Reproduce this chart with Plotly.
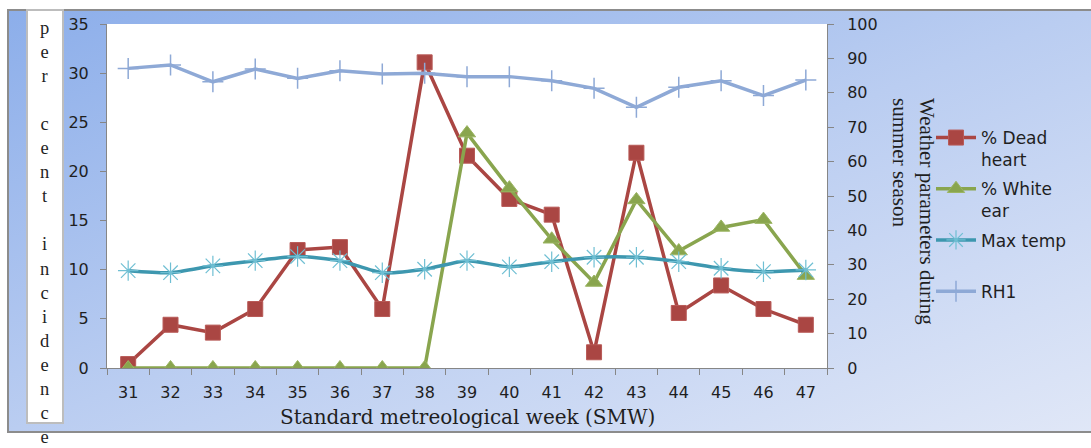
import base64
import plotly.graph_objects as go

weeks = ["31", "32", "33", "34", "35", "36", "37", "38", "39", "40", "41", "42", "43", "44", "45", "46", "47"]
dead_heart = [0.4, 4.4, 3.6, 6.0, 12.0, 12.3, 6.0, 31.1, 21.6, 17.2, 15.6, 1.6, 21.9, 5.6, 8.4, 6.0, 4.4]
white_ear = [0, 0, 0, 0, 0, 0, 0, 0, 23.9, 18.3, 13.1, 8.7, 17.1, 11.9, 14.3, 15.1, 9.4]
max_temp = [28.3, 27.7, 29.7, 31.2, 32.4, 31.2, 27.7, 28.7, 31.2, 29.4, 30.9, 32.2, 32.2, 30.9, 29.0, 28.0, 28.5]
rh1 = [87.1, 88.1, 83.2, 86.9, 84.2, 86.4, 85.5, 85.7, 84.7, 84.7, 83.5, 81.3, 75.8, 81.6, 83.5, 79.2, 83.7]

left_ticks = [0, 5, 10, 15, 20, 25, 30, 35]
right_ticks = [0, 10, 20, 30, 40, 50, 60, 70, 80, 90, 100]

W, H = 1091, 448
L, R, T, B = 107, 827, 24, 368
pw, ph = R - L, B - T


def px(x):
    return (x - L) / pw


def py(y):
    return (B - y) / ph


SANS = "DejaVu Sans"
SERIF = "Liberation Serif"
TXT = "#1f1f1f"
AXC = "#868686"

fig = go.Figure()
fig.add_trace(go.Scatter(
    x=weeks, y=dead_heart, name="% Dead<br>heart", legendgroup="a",
    mode="lines+markers", line=dict(color="#AA4643", width=3.5),
    marker=dict(symbol="square", size=15, color="#AA4643", line=dict(color="#B85A57", width=1)),
))
fig.add_trace(go.Scatter(
    x=weeks, y=white_ear, name="% White<br>ear", legendgroup="b",
    mode="lines+markers", line=dict(color="#89A54E", width=3.5),
    marker=dict(symbol="triangle-up", size=15, color="#89A54E", line=dict(color="#9BB562", width=1)),
))
fig.add_trace(go.Scatter(
    x=weeks, y=max_temp, name="Max temp<br>\u00a0", legendgroup="c", yaxis="y2",
    mode="lines+markers", line=dict(color="#3D97AF", width=3.5, shape="spline", smoothing=0.6),
    marker=dict(symbol="asterisk-open", size=17, color="#6FBFD3", line=dict(color="#6FBFD3", width=1.2)),
))
fig.add_trace(go.Scatter(
    x=weeks, y=rh1, name="RH1<br>\u00a0", legendgroup="d", yaxis="y2",
    mode="lines+markers", line=dict(color="#8EA9D6", width=3.5),
    marker=dict(symbol="cross-thin-open", size=15, color="#8EA9D6", line=dict(color="#8EA9D6", width=1.5)),
))

# gradient frame background
svg = (
    '<svg xmlns="http://www.w3.org/2000/svg" width="1083" height="422" viewBox="0 0 1083 422" '
    'preserveAspectRatio="none"><defs><linearGradient id="g" x1="0" y1="0" x2="1" y2="1">'
    '<stop offset="0" stop-color="#8CAEEA"/><stop offset="0.5" stop-color="#BACDF1"/>'
    '<stop offset="1" stop-color="#E0E7F7"/></linearGradient></defs>'
    '<rect x="0" y="0" width="1083" height="422" fill="url(#g)"/></svg>'
)
src = "data:image/svg+xml;base64," + base64.b64encode(svg.encode()).decode()

fig.update_layout(
    width=W, height=H,
    margin=dict(l=L, r=W - R, t=T, b=H - B),
    paper_bgcolor="white", plot_bgcolor="white",
    showlegend=True,
    legend=dict(
        x=px(931), y=py(120), xanchor="left", yanchor="top",
        font=dict(family=SANS, size=17, color=TXT),
        bgcolor="rgba(0,0,0,0)", valign="top", traceorder="grouped",
        tracegroupgap=4, itemwidth=40,
    ),
    xaxis=dict(
        type="category", range=[-0.5, 16.5], showgrid=False, zeroline=False,
        showline=True, linecolor=AXC, linewidth=1,
        ticks="outside", tickson="boundaries", ticklen=6, tickcolor=AXC,
        tickfont=dict(family=SANS, size=16, color=TXT), ticklabelstandoff=10,
    ),
    yaxis=dict(
        range=[0, 35], tickvals=left_ticks, showgrid=False, zeroline=False,
        showline=True, linecolor=AXC, linewidth=1,
        ticks="outside", ticklen=6, tickcolor=AXC,
        tickfont=dict(family=SANS, size=16, color=TXT), ticklabelstandoff=8,
    ),
    yaxis2=dict(
        range=[0, 100], tickvals=right_ticks, overlaying="y", side="right",
        showgrid=False, zeroline=False,
        showline=True, linecolor=AXC, linewidth=1,
        ticks="outside", ticklen=6, tickcolor=AXC,
        tickfont=dict(family=SANS, size=16, color=TXT), ticklabelstandoff=10,
    ),
    images=[dict(
        source=src, xref="paper", yref="paper",
        x=px(8), y=py(10), sizex=(1091 - 8) / pw, sizey=(432 - 10) / ph,
        xanchor="left", yanchor="top", sizing="stretch", layer="below",
    )],
    shapes=[
        dict(type="rect", xref="x domain", yref="y domain",
             x0=0, x1=1, y0=0, y1=1,
             line=dict(width=0), fillcolor="white", layer="below"),
        dict(type="rect", xref="paper", yref="paper",
             x0=px(8), x1=px(1095), y0=py(432), y1=py(10),
             line=dict(color="#8C8C8C", width=2), fillcolor="rgba(0,0,0,0)", layer="above"),
        dict(type="rect", xref="paper", yref="paper",
             x0=px(27), x1=px(63), y0=py(423), y1=py(10),
             line=dict(color="#BDBDBD", width=2), fillcolor="white", layer="above"),
    ],
)

letters = "per cent incidence"
stack = "<br>".join(ch if ch != " " else "\u00a0" for ch in letters)

fig.add_annotation(
    text=stack, xref="paper", yref="paper", x=px(45), y=py(232),
    xanchor="center", yanchor="middle", showarrow=False, align="center",
    font=dict(family=SERIF, size=18.5, color=TXT),
)
fig.add_annotation(
    text="Standard metreological week (SMW)", xref="paper", yref="paper",
    x=px(467), y=py(417), xanchor="center", yanchor="middle", showarrow=False,
    font=dict(family="DejaVu Serif", size=20, color=TXT),
)
fig.add_annotation(
    text="Weather parameters during<br>summer season", xref="paper", yref="paper",
    x=px(914), y=py(211), xanchor="center", yanchor="middle", showarrow=False,
    textangle=90, align="left",
    font=dict(family=SERIF, size=21, color=TXT),
)

fig.write_html("out.html")
